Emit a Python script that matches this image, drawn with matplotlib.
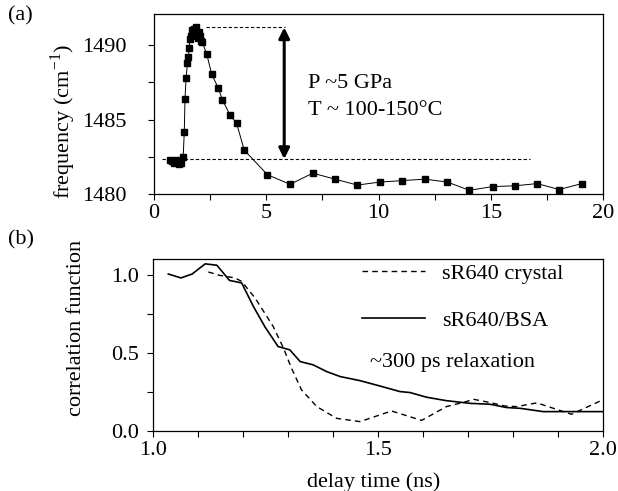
import matplotlib
matplotlib.use("Agg")
import matplotlib.pyplot as plt
from matplotlib.ticker import MultipleLocator

plt.rcParams['font.family'] = ['Liberation Serif', 'DejaVu Serif']
plt.rcParams['mathtext.fontset'] = 'custom'
plt.rcParams['mathtext.rm'] = 'Liberation Serif'

# Panel (a): frequency vs delay
freq_t = [0.70, 0.80, 0.90, 1.00, 1.10, 1.20, 1.30, 1.35, 1.38, 1.43, 1.49, 1.53, 1.57, 1.60,
          1.65, 1.70, 1.78, 1.85, 1.90, 1.95, 2.00, 2.05, 2.10, 2.15, 2.35, 2.57, 2.87, 3.04,
          3.39, 3.68, 4.02, 5.05, 6.06, 7.07, 8.06, 9.06, 10.05, 11.06, 12.07, 13.07, 14.05,
          15.09, 16.08, 17.07, 18.05, 19.05]
freq_v = [1482.3, 1482.2, 1482.1, 1482.3, 1482.0, 1482.1, 1482.5, 1484.2, 1486.4, 1487.8,
          1488.8, 1489.2, 1489.8, 1490.45, 1490.6, 1491.0, 1491.1, 1491.2, 1490.8, 1490.5,
          1490.9, 1490.6, 1490.3, 1490.2, 1489.4, 1488.05, 1487.1, 1486.35, 1485.3, 1484.75,
          1482.95, 1481.3, 1480.65, 1481.4, 1481.0, 1480.6, 1480.8, 1480.9, 1481.0, 1480.8,
          1480.25, 1480.5, 1480.55, 1480.7, 1480.3, 1480.7]
peak_level = 1491.2
base_level = 1482.35

# Panel (b): correlation functions
bsa_t = [1.034, 1.062, 1.087, 1.116, 1.142, 1.170, 1.197, 1.223, 1.249, 1.278, 1.304, 1.327,
         1.356, 1.386, 1.416, 1.445, 1.460, 1.504, 1.549, 1.571, 1.608, 1.652, 1.704, 1.749,
         1.786, 1.816, 1.867, 1.900, 2.000]
bsa_c = [1.004, 0.979, 1.004, 1.069, 1.060, 0.963, 0.947, 0.797, 0.665, 0.540, 0.519, 0.444,
         0.423, 0.380, 0.348, 0.331, 0.322, 0.288, 0.252, 0.246, 0.216, 0.194, 0.177, 0.171,
         0.150, 0.145, 0.124, 0.124, 0.124]
cry_t = [1.123, 1.149, 1.182, 1.197, 1.227, 1.267, 1.290, 1.308, 1.330, 1.364, 1.408, 1.460,
         1.530, 1.597, 1.652, 1.696, 1.712, 1.749, 1.782, 1.808, 1.853, 1.930, 2.000]
cry_c = [1.017, 0.995, 0.979, 0.957, 0.850, 0.669, 0.530, 0.400, 0.263, 0.156, 0.081, 0.060,
         0.128, 0.068, 0.156, 0.188, 0.203, 0.182, 0.160, 0.156, 0.180, 0.107, 0.200]

W, H = 618, 491
fig = plt.figure(figsize=(W / 100, H / 100), dpi=100)
axa = fig.add_axes([154 / W, 1 - 194 / H, 449 / W, 180 / H])
axb = fig.add_axes([153 / W, 1 - 431 / H, 450 / W, 172 / H])

FS = 16
for ax in (axa, axb):
    for s in ax.spines.values():
        s.set_linewidth(0.9)
    ax.tick_params(direction='out', which='major', length=4, width=0.8, labelsize=FS)
    ax.tick_params(direction='out', which='minor', length=4, width=0.8)
axa.tick_params(axis='y', which='major', pad=16)
axb.tick_params(axis='y', which='major', pad=6)

# (a)
axa.plot(freq_t, freq_v, color='black', lw=0.7, marker='s', ms=4.4, mfc='black', mec='black')
axa.plot([2.3, 5.85], [peak_level, peak_level], color='black', lw=0.8, ls=(0, (3, 2)))
axa.plot([0.36, 16.75], [base_level, base_level], color='black', lw=0.8, ls=(0, (3, 2)))
axa.annotate('', xy=(5.8, base_level), xytext=(5.8, peak_level),
             arrowprops=dict(arrowstyle='<|-|>', color='black', lw=2.2,
                             mutation_scale=16, shrinkA=0, shrinkB=0))
axa.text(6.86, 1487.45, 'P ~5 GPa', fontsize=FS, va='center', ha='left')
axa.text(6.86, 1485.6, 'T ~ 100-150\u00b0C', fontsize=FS, va='center', ha='left')
axa.set_xlim(0, 20)
axa.set_ylim(1480, 1492.1)
axa.xaxis.set_major_locator(MultipleLocator(5))
axa.xaxis.set_minor_locator(MultipleLocator(2.5))
axa.yaxis.set_major_locator(MultipleLocator(5))
axa.yaxis.set_minor_locator(MultipleLocator(2.5))
axa.set_ylabel('frequency (cm$^{-1}$)', fontsize=FS)
axa.yaxis.set_label_coords(-0.170, 0.40)

# (b)
axb.plot(cry_t, cry_c, color='black', lw=1.0, ls=(0, (4, 3)), label='sR640 crystal')
axb.plot(bsa_t, bsa_c, color='black', lw=1.2, label='sR640/BSA')
axb.legend(loc='upper left', bbox_to_anchor=(0.464, 0.977), frameon=False, fontsize=FS,
           borderpad=0, borderaxespad=0,
           handlelength=2.85, handletextpad=0.77, labelspacing=1.2)
axb.text(1.483, 0.435, '~300 ps relaxation', fontsize=FS, va='center', ha='left')
axb.set_xlim(1.0, 2.0)
axb.set_ylim(0.0, 1.1)
axb.xaxis.set_major_locator(MultipleLocator(0.5))
axb.xaxis.set_minor_locator(MultipleLocator(0.1))
axb.yaxis.set_major_locator(MultipleLocator(0.5))
axb.yaxis.set_minor_locator(MultipleLocator(0.25))
axb.xaxis.set_major_formatter(plt.FormatStrFormatter('%.1f'))
axb.yaxis.set_major_formatter(plt.FormatStrFormatter('%.1f'))
axb.set_xlabel('delay time (ns)', fontsize=FS)
axb.xaxis.set_label_coords(0.49, -0.24)
axb.set_ylabel('correlation function', fontsize=FS)
axb.yaxis.set_label_coords(-0.149, 0.60)

fig.text(8 / W, 1 - 16 / H, '(a)', fontsize=FS, va='center', ha='left')
fig.text(8 / W, 1 - 240 / H, '(b)', fontsize=FS, va='center', ha='left')

fig.savefig('out.png', dpi=100)
